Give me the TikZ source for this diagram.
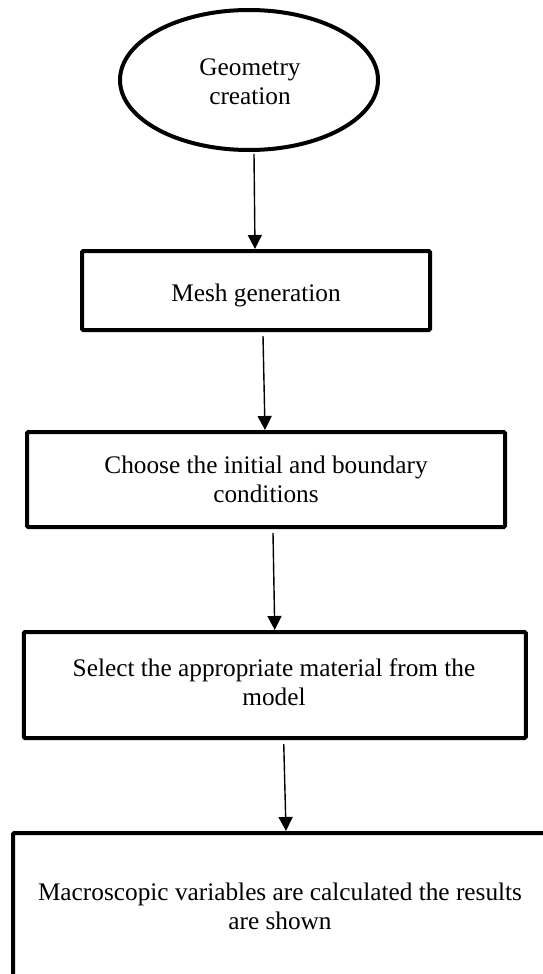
\documentclass[tikz,border=0pt]{standalone}
\usepackage{fontspec}
\setmainfont{Liberation Serif}
\usetikzlibrary{shapes.geometric,arrows.meta}
\tikzset{
  flowbox/.style={draw=black, line width=4pt, rectangle, rounded corners=1.2pt, inner sep=0pt},
  oval/.style={draw=black, line width=4pt, ellipse, inner sep=0pt},
  lbl/.style={font=\fontsize{25.3}{29}\selectfont, align=center, inner sep=0pt},
  arr/.style={line width=1.4pt, -{Triangle[width=14pt,length=14pt]}}
}
\begin{document}
\begin{tikzpicture}[x=1pt,y=-1pt]
\useasboundingbox (0,0) rectangle (543,974);
\clip (0,0) rectangle (543,974);
\fill[white] (0,0) rectangle (543,974);

\node[oval, minimum width=258pt, minimum height=140pt] (geo) at (249,80) {};
\node[lbl] (geot) at (250,82) {Geometry\\creation};

\node[flowbox, minimum width=348pt, minimum height=79pt] (mesh) at (256,290.5) {};
\node[lbl] (mesht) at (256,295) {Mesh generation};

\node[flowbox, minimum width=478pt, minimum height=95pt] (cond) at (266,479.5) {};
\node[lbl] (condt) at (266,479) {Choose the initial and boundary\\conditions};

\node[flowbox, minimum width=502pt, minimum height=106pt] (mat) at (274.75,685) {};
\node[lbl] (matt) at (274,682) {Select the appropriate material from the\\model};

\node[flowbox, minimum width=532pt, minimum height=167pt] (res) at (279,916.5) {};
\node[lbl] (rest) at (280,906) {Macroscopic variables are calculated the results\\are shown};

\draw[arr] ([xshift=5pt,yshift=-2pt]geo.south) -- ([xshift=-1pt]mesh.north);
\draw[arr] ([xshift=7pt,yshift=-4pt]mesh.south) -- ([xshift=-1pt]cond.north);
\draw[arr] ([xshift=7pt,yshift=-4pt]cond.south) -- ([xshift=0pt]mat.north);
\draw[arr] ([xshift=9pt,yshift=-4pt]mat.south) -- ([xshift=7pt]res.north);
\end{tikzpicture}
\end{document}
